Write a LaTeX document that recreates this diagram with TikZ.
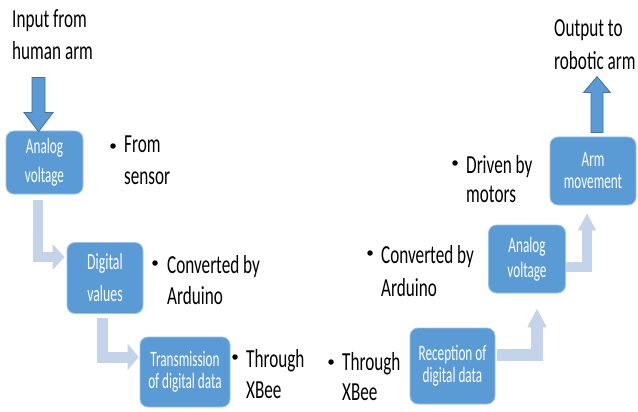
\documentclass[tikz,border=0pt]{standalone}
\usepackage{fontspec}
\newfontfamily\outerfont{Carlito}[FakeStretch=0.66]
\newfontfamily\boxfont{Carlito}[FakeStretch=0.6]
\usetikzlibrary{arrows.meta,calc}
\definecolor{boxblue}{HTML}{5B9BD5}
\definecolor{boxedge}{HTML}{41719C}
\definecolor{lightc}{HTML}{C3D3EA}
\tikzset{
  stepbox/.style={rounded corners=8pt, fill=boxblue, draw=boxblue!60!white, line width=0.8pt,
    text=white, align=center, inner sep=0pt},
  outer/.style={anchor=base west, inner sep=0pt, text=black},
  bul/.style={circle, fill=black, inner sep=0pt, minimum size=5.5pt},
  conn/.style={draw=lightc, line join=miter, line cap=butt},
  bigarrow/.style={fill=boxblue, draw=boxedge, line width=0.8pt, line join=miter}
}
\begin{document}
\begin{tikzpicture}[x=1pt,y=-1pt]
\path[use as bounding box, fill=white] (0,0) rectangle (638,412);

% boxes
\node[stepbox, minimum width=77pt, minimum height=63pt, font=\boxfont\fontsize{22}{29}\selectfont] (b1) at (44.5,162.5) {Analog\\voltage};
\node[stepbox, minimum width=76pt, minimum height=71pt, font=\boxfont\fontsize{23}{32}\selectfont] (b2) at (105,278) {Digital\\values};
\node[stepbox, minimum width=90pt, minimum height=70pt, font=\boxfont\fontsize{22}{22}\selectfont] (b3) at (185,372) {Transmission\\of digital data};
\node[stepbox, minimum width=85pt, minimum height=76pt, font=\boxfont\fontsize{22}{22}\selectfont] (b4) at (452.5,366) {Reception of\\digital data};
\node[stepbox, minimum width=77pt, minimum height=68pt, font=\boxfont\fontsize{22}{25}\selectfont] (b5) at (527,259) {Analog\\voltage};
\node[stepbox, minimum width=86pt, minimum height=68pt, font=\boxfont\fontsize{22}{22}\selectfont] (b6) at (593,171) {Arm\\movement};

% outer texts
\node[outer, font=\outerfont\fontsize{26}{32}\selectfont] (tin) at (12,28) {\begin{tabular}[t]{@{}l@{}}Input from\\human arm\end{tabular}};
\node[outer, font=\outerfont\fontsize{26}{33}\selectfont] (tout) at (554,37) {\begin{tabular}[t]{@{}l@{}}Output to\\robotic arm\end{tabular}};
\node[outer, font=\outerfont\fontsize{26}{32}\selectfont] (n1) at (124,153) {\begin{tabular}[t]{@{}l@{}}From\\sensor\end{tabular}};
\node[outer, font=\outerfont\fontsize{26}{31}\selectfont] (n2) at (167,273) {\begin{tabular}[t]{@{}l@{}}Converted by\\Arduino\end{tabular}};
\node[outer, font=\outerfont\fontsize{26}{31}\selectfont] (n3) at (246,367) {\begin{tabular}[t]{@{}l@{}}Through\\XBee\end{tabular}};
\node[outer, font=\outerfont\fontsize{26}{30}\selectfont] (n4) at (342,370) {\begin{tabular}[t]{@{}l@{}}Through\\XBee\end{tabular}};
\node[outer, font=\outerfont\fontsize{26}{33}\selectfont] (n5) at (381,263) {\begin{tabular}[t]{@{}l@{}}Converted by\\Arduino\end{tabular}};
\node[outer, font=\outerfont\fontsize{26}{29}\selectfont] (n6) at (466,173) {\begin{tabular}[t]{@{}l@{}}Driven by\\motors\end{tabular}};

% bullets
\node[bul] (d1) at (113,146) {};
\node[bul] (d2) at (155,263) {};
\node[bul] (d3) at (235,357) {};
\node[bul] (d4) at (331,362) {};
\node[bul] (d5) at (370,253) {};
\node[bul] (d6) at (455,163) {};

% light connectors
\draw[conn, line width=10pt, -{Triangle[length=12pt,width=25pt]}]
  ($(b1.south)+(-6.5,6)$) |- ($(b2.west)+(-2,-21)$);
\draw[conn, line width=11pt, -{Triangle[length=11pt,width=26pt]}]
  ($(b2.south)+(-2.5,4)$) |- ($(b3.west)+(-1,-15)$);
\draw[conn, line width=12pt, -{Triangle[length=19pt,width=18pt]}]
  ($(b4.east)+(2,-11)$) -| ($(b5.south)+(10,15)$);
\draw[conn, line width=10pt, -{Triangle[length=17pt,width=17pt]}]
  ($(b5.east)+(0.5,8)$) -| ($(b6.south)+(-6,8)$);

% input arrow
\filldraw[bigarrow] ($(b1.north)+(-6,1)$) -- ++(14.5,-19) -- ++(-8,0) -- ++(0,-35)
  -- ++(-13,0) -- ++(0,35) -- ++(-8,0) -- cycle;
% output arrow
\filldraw[bigarrow] ($(b6.north)+(-2,-4)$) -- ++(0,-40) -- ++(-7.5,0) -- ++(13.5,-16)
  -- ++(13.5,16) -- ++(-7.5,0) -- ++(0,40) -- cycle;
\end{tikzpicture}
\end{document}
